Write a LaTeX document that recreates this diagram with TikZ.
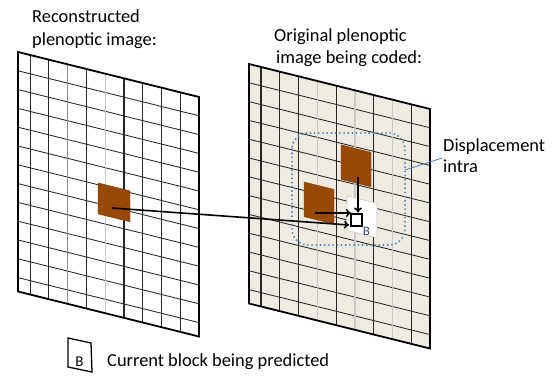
\documentclass[tikz,border=0pt]{standalone}
\usepackage{fontspec}
\setmainfont{Carlito}
\usetikzlibrary{arrows.meta}
\definecolor{beige}{RGB}{238,236,225}
\definecolor{brownblk}{RGB}{152,72,7}
\definecolor{dotblue}{RGB}{79,129,189}
\definecolor{gridgray}{RGB}{140,140,140}
\definecolor{gridlight}{RGB}{200,200,200}
\definecolor{smallb}{RGB}{45,70,130}
\begin{document}
\begin{tikzpicture}[x=1pt,y=-1pt,
  lbl/.style={anchor=base west, inner sep=0pt, font=\fontsize{18.4}{22}\selectfont},
  panelborder/.style={draw=black, line width=1.8pt, line join=miter},
  gthick/.style={draw=black!85, line width=1.3pt},
  gthin/.style={draw=black!85, line width=0.8pt},
  ggray/.style={draw=gridgray, line width=0.9pt},
  glight/.style={draw=gridlight, line width=1.2pt},
  hline/.style={draw=black!85, line width=0.85pt},
  brownfill/.style={fill=brownblk, draw=brownblk!85!black, line width=0.4pt},
  arr/.style={draw=black, line width=1.6pt, -{To[length=5pt,width=8pt]}},
]
\useasboundingbox (0,0) rectangle (554,378);

% ---------- left panel: reconstructed image ----------
\begin{scope}[shift={(18,52)}, x={(1pt,-0.2486pt)}, y={(0pt,-1pt)}]
  \fill[white] (0,0) -- (181,0) -- (181,239.5) -- (0,239.5) -- cycle;
  \foreach \k in {1,...,12} \draw[hline] (0,18.8*\k) -- (181,18.8*\k);
  \draw[gthin]  (12,0) -- (12,239.5);
  \draw[gthick] (30.8,0) -- (30.8,239.5);
  \draw[ggray]  (49.6,0) -- (49.6,239.5);
  \draw[gthick] (68.4,0) -- (68.4,239.5);
  \draw[glight] (87.2,0) -- (87.2,239.5);
  \draw[gthick] (106,0) -- (106,239.5);
  \draw[gthin]  (124.8,0) -- (124.8,239.5);
  \draw[gthick] (143.6,0) -- (143.6,239.5);
  \draw[gthin]  (162.4,0) -- (162.4,239.5);
  \draw[brownfill] (80,111) -- (112,111) -- (112,142) -- (80,142) -- cycle;
  \draw[panelborder] (0,0) -- (181,0) -- (181,239.5) -- (0,239.5) -- cycle;
\end{scope}

% ---------- right panel: original image being coded ----------
\begin{scope}[shift={(249,64)}, x={(1pt,-0.2486pt)}, y={(0pt,-1pt)}]
  \fill[beige] (0,0) -- (181,0) -- (181,239.5) -- (0,239.5) -- cycle;
  \foreach \k in {1,...,12} \draw[hline] (0,18.8*\k) -- (181,18.8*\k);
  \draw[gthick] (12,0) -- (12,239.5);
  \draw[gthin]  (30.8,0) -- (30.8,239.5);
  \draw[gthick] (49.6,0) -- (49.6,239.5);
  \draw[glight] (68.4,0) -- (68.4,239.5);
  \draw[gthick] (87.2,0) -- (87.2,239.5);
  \draw[glight] (106,0) -- (106,239.5);
  \draw[gthick] (124.8,0) -- (124.8,239.5);
  \draw[glight] (143.6,0) -- (143.6,239.5);
  \draw[gthick] (162.4,0) -- (162.4,239.5);
  \draw[brownfill] (92,58) -- (122,58) -- (122,92.5) -- (92,92.5) -- cycle;
  \draw[brownfill] (55,104.3) -- (85,104.3) -- (85,139) -- (55,139) -- cycle;
  \draw[fill=white, draw=gridlight, line width=0.6pt] (98,107.5) -- (128,107.5) -- (128,142) -- (98,142) -- cycle;
  \draw[panelborder] (0,0) -- (181,0) -- (181,239.5) -- (0,239.5) -- cycle;
\end{scope}

% dotted search window
\draw[dotblue, line width=2.1pt, line cap=round, dash pattern=on 0pt off 4.2pt, rounded corners=16pt]
  (292,133) rectangle (405,245);

% current block
\node[draw=black, line width=1.8pt, fill=white, minimum width=11pt, minimum height=12pt, inner sep=0pt] (bcur) at (356.5,220) {};
\node[anchor=base, inner sep=0pt, text=smallb, font=\fontsize{13}{15}\selectfont] (bsmall) at (366.5,235) {B};

% arrows
\coordinate (lsrc) at (112,208);
\coordinate (ltip) at (349,225);
\coordinate (usrc) at (358,177);
\coordinate (utip) at (358,212.5);
\coordinate (msrc) at (315,213);
\coordinate (mtip) at (351,213);
\draw[arr] (usrc) -- (utip);
\draw[arr] (msrc) -- (mtip);
\draw[arr] (lsrc) -- (ltip);

% labels
\node[lbl] (t1a) at (32,22.7) {Reconstructed};
\node[lbl] (t1b) at (32,45) {plenoptic image:};
\node[lbl] (t2a) at (274,41.7) {Original plenoptic};
\node[lbl] (t2b) at (276,63) {image being coded:};
\node[lbl] (t3a) at (443,151) {Displacement};
\node[lbl] (t3b) at (443,172.5) {intra};
\coordinate (lead0) at (405,170);
\coordinate (lead1) at (442,158);
\draw[dotblue, line width=0.8pt] (lead0) -- (lead1);

% legend
\draw[line width=1.3pt, line join=miter] (68,338) -- (91,343) -- (92,372) -- (68,367) -- cycle;
\node[anchor=base, inner sep=0pt, font=\fontsize{15}{18}\selectfont] (legb) at (79.5,366.5) {B};
\node[lbl] (legt) at (107,366.7) {Current block being predicted};
\end{tikzpicture}
\end{document}
